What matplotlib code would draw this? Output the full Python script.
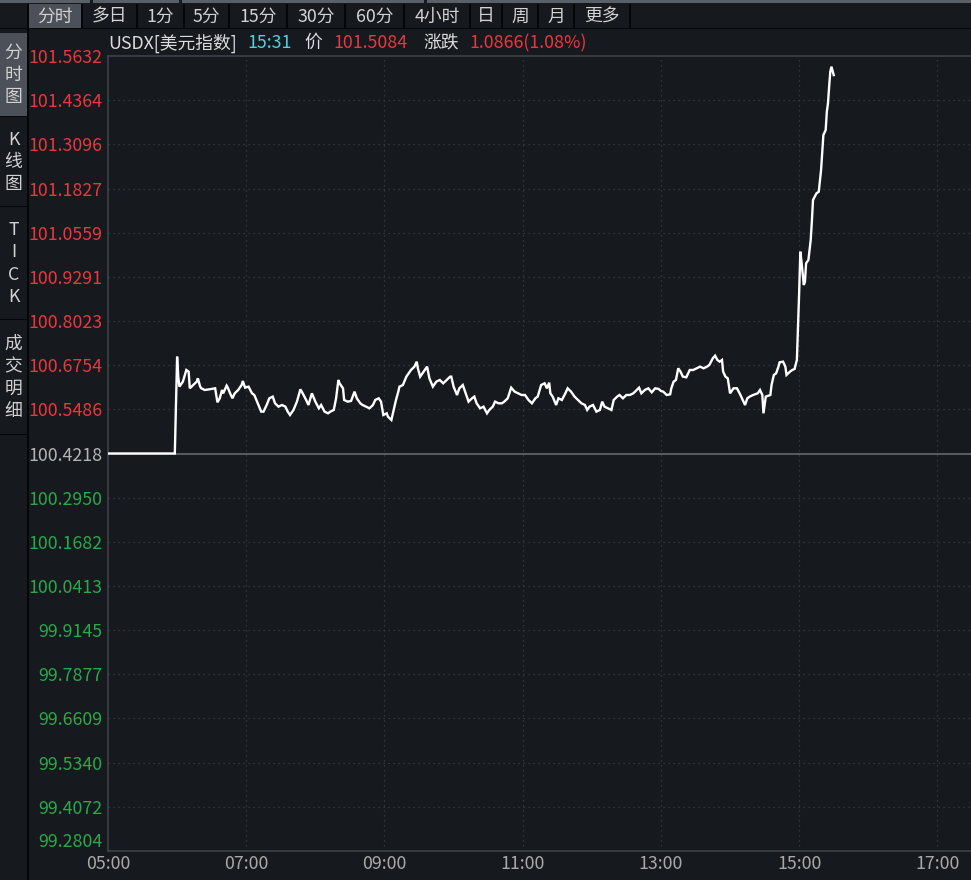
import matplotlib
matplotlib.use("Agg")
import matplotlib.pyplot as plt
from matplotlib.patches import Rectangle
import numpy as np

plt.rcParams['font.family'] = ['Noto Sans CJK SC', 'DejaVu Sans']

# ---------------- data ----------------
times = ["05:00", "05:58", "05:59", "06:00", "06:01", "06:02", "06:05", "06:08", "06:10", "06:11",
         "06:14", "06:17", "06:18", "06:20", "06:21", "06:24", "06:28", "06:33", "06:35", "06:37",
         "06:39", "06:40", "06:43", "06:44", "06:46", "06:48", "06:50", "06:53", "06:56", "06:57",
         "06:59", "07:02", "07:05", "07:07", "07:10", "07:13", "07:15", "07:18", "07:20", "07:23",
         "07:25", "07:28", "07:31", "07:34", "07:36", "07:38", "07:41", "07:44", "07:47", "07:49",
         "07:52", "07:54", "07:57", "08:00", "08:03", "08:05", "08:08", "08:11", "08:13", "08:16",
         "08:18", "08:20", "08:21", "08:24", "08:25", "08:28", "08:31", "08:34", "08:36", "08:39",
         "08:41", "08:44", "08:47", "08:50", "08:52", "08:55", "08:57", "08:59", "09:02", "09:03",
         "09:06", "09:09", "09:10", "09:12", "09:13", "09:16", "09:19", "09:21", "09:23", "09:26",
         "09:28", "09:29", "09:31", "09:34", "09:37", "09:39", "09:42", "09:45", "09:48", "09:51",
         "09:54", "09:57", "09:58", "10:00", "10:03", "10:05", "10:08", "10:10", "10:13", "10:16",
         "10:18", "10:20", "10:23", "10:26", "10:29", "10:31", "10:34", "10:36", "10:39", "10:42",
         "10:44", "10:47", "10:50", "10:53", "10:56", "10:59", "11:02", "11:05", "11:08", "11:11",
         "11:13", "11:16", "11:19", "11:21", "11:23", "11:24", "11:26", "11:29", "11:31", "11:34",
         "11:37", "11:39", "11:42", "11:45", "11:48", "11:51", "11:54", "11:56", "11:58", "12:01",
         "12:04", "12:07", "12:09", "12:11", "12:14", "12:17", "12:19", "12:22", "12:24", "12:27",
         "12:30", "12:33", "12:36", "12:39", "12:41", "12:43", "12:46", "12:49", "12:52", "12:55",
         "12:58", "13:00", "13:02", "13:05", "13:08", "13:09", "13:11", "13:13", "13:15", "13:17",
         "13:19", "13:22", "13:25", "13:28", "13:31", "13:34", "13:37", "13:40", "13:42", "13:45",
         "13:47", "13:49", "13:51", "13:53", "13:54", "13:56", "13:58", "14:00", "14:03", "14:06",
         "14:09", "14:11", "14:13", "14:15", "14:17", "14:20", "14:24", "14:26", "14:28", "14:29",
         "14:31", "14:35", "14:36", "14:38", "14:40", "14:42", "14:43", "14:46", "14:48", "14:49",
         "14:52", "14:54", "14:56", "14:58", "14:59", "15:00", "15:01", "15:02", "15:04", "15:05",
         "15:06", "15:08", "15:10", "15:11", "15:12", "15:15", "15:17", "15:19", "15:20", "15:21",
         "15:23", "15:24", "15:25", "15:26", "15:27", "15:28", "15:30"]
prices = [100.4218, 100.4218, 100.5611, 100.6999, 100.6425, 100.6138, 100.6281, 100.6616, 100.6568, 100.6090,
          100.6185, 100.6281, 100.6377, 100.6138, 100.6090, 100.6042, 100.6061, 100.6090, 100.5688, 100.5803,
          100.6042, 100.5946, 100.6166, 100.6109, 100.5946, 100.5803, 100.5946, 100.6042, 100.6185, 100.6300,
          100.6109, 100.6138, 100.5946, 100.5898, 100.5659, 100.5420, 100.5420, 100.5630, 100.5803, 100.5851,
          100.5659, 100.5563, 100.5611, 100.5563, 100.5420, 100.5324, 100.5468, 100.5707, 100.6061, 100.5946,
          100.5755, 100.5611, 100.5946, 100.5707, 100.5516, 100.5611, 100.5420, 100.5372, 100.5420, 100.5468,
          100.5803, 100.6329, 100.6233, 100.6090, 100.5755, 100.5707, 100.5726, 100.5994, 100.5803, 100.5659,
          100.5611, 100.5563, 100.5516, 100.5611, 100.5755, 100.5803, 100.5707, 100.5324, 100.5372, 100.5276,
          100.5181, 100.5611, 100.5755, 100.5994, 100.6138, 100.6185, 100.6425, 100.6521, 100.6616, 100.6712,
          100.6855, 100.6664, 100.6425, 100.6568, 100.6712, 100.6377, 100.6138, 100.6281, 100.6329, 100.6233,
          100.6329, 100.6425, 100.6425, 100.6138, 100.5898, 100.6090, 100.6185, 100.5994, 100.5707, 100.5803,
          100.5851, 100.5659, 100.5516, 100.5563, 100.5372, 100.5468, 100.5563, 100.5707, 100.5659, 100.5659,
          100.5707, 100.5803, 100.6109, 100.5994, 100.5946, 100.5898, 100.5898, 100.5755, 100.5659, 100.5803,
          100.5851, 100.6185, 100.6233, 100.6090, 100.6252, 100.5946, 100.5851, 100.5611, 100.5803, 100.5755,
          100.5946, 100.6090, 100.5994, 100.5851, 100.5755, 100.5659, 100.5611, 100.5468, 100.5563, 100.5611,
          100.5420, 100.5468, 100.5707, 100.5563, 100.5516, 100.5468, 100.5755, 100.5851, 100.5898, 100.5803,
          100.5898, 100.5898, 100.5946, 100.6042, 100.6109, 100.5946, 100.6042, 100.6090, 100.5975, 100.6090,
          100.6071, 100.6013, 100.5994, 100.5898, 100.5917, 100.6090, 100.6281, 100.6329, 100.6664, 100.6568,
          100.6425, 100.6406, 100.6616, 100.6616, 100.6664, 100.6712, 100.6664, 100.6712, 100.6760, 100.6951,
          100.7028, 100.6903, 100.6855, 100.6903, 100.6568, 100.6425, 100.6377, 100.5946, 100.6090, 100.6090,
          100.5898, 100.5755, 100.5611, 100.5803, 100.5851, 100.5898, 100.5946, 100.6042, 100.5898, 100.5372,
          100.5851, 100.5898, 100.6185, 100.6473, 100.6521, 100.6712, 100.6836, 100.6855, 100.6712, 100.6473,
          100.6568, 100.6616, 100.6645, 100.6903, 100.7860, 100.8865, 101.0013, 100.9726, 100.9056, 100.9152,
          100.9678, 100.9774, 101.0348, 101.0875, 101.1497, 101.1688, 101.1736, 101.2358, 101.2885, 101.3363,
          101.3507, 101.4033, 101.4272, 101.4751, 101.5182, 101.5325, 101.5084]

y_ticks = [99.2804, 99.4072, 99.5340, 99.6609, 99.7877, 99.9145, 100.0413, 100.1682, 100.2950,
           100.4218, 100.5486, 100.6754, 100.8023, 100.9291, 101.0559, 101.1827, 101.3096, 101.4364, 101.5632]
y_tick_labels = ["99.2804", "99.4072", "99.5340", "99.6609", "99.7877", "99.9145", "100.0413", "100.1682",
                 "100.2950", "100.4218", "100.5486", "100.6754", "100.8023", "100.9291", "101.0559",
                 "101.1827", "101.3096", "101.4364", "101.5632"]
x_tick_labels = ["05:00", "07:00", "09:00", "11:00", "13:00", "15:00", "17:00"]
prev_close = 100.4218

toolbar_tabs = ["分时", "多日", "1分", "5分", "15分", "30分", "60分", "4小时", "日", "周", "月", "更多"]
side_tabs = ["分\n时\n图", "K\n线\n图", "T\nI\nC\nK", "成\n交\n明\n细"]

header_parts = [("USDX[美元指数]", "#dcdcdc"), ("15:31", "#4fd2e0"), ("价", "#dcdcdc"),
                ("101.5084", "#e8383d"), ("涨跌", "#dcdcdc"), ("1.0866(1.08%)", "#e8383d")]

# ---------------- helpers ----------------
def to_min(s):
    h, m = s.split(":")
    return (int(h) - 5) * 60 + int(m)

t_min = np.array([to_min(s) for s in times])
x_ticks = [to_min(s) for s in x_tick_labels]

BG = "#16191e"
GRID = "#3b3f46"
RED = "#e8383d"
GREEN = "#2aa84a"
GREY_TXT = "#a8a8a8"
FS = 12.8

W, H = 971, 880
fig = plt.figure(figsize=(W / 100, H / 100), dpi=100, facecolor=BG)

# chrome (figure-pixel coordinates)
bg = fig.add_axes([0, 0, 1, 1])
bg.set_xlim(0, W)
bg.set_ylim(H, 0)
bg.axis("off")
bg.set_facecolor(BG)

bg.add_patch(Rectangle((0, 0), W, 3.5, color="#5b6068", lw=0))
for gx in (90, 179, 424):
    bg.add_patch(Rectangle((gx, 0), 3, 3.5, color=BG, lw=0))
bg.add_patch(Rectangle((0, 28), W, 1.5, color="#050607", lw=0))

tab_edges = [28, 82, 137, 184, 229, 287, 345, 404, 470, 502, 538, 574, 630]
for i, lab in enumerate(toolbar_tabs):
    x0, x1 = tab_edges[i], tab_edges[i + 1]
    if i == 0:
        bg.add_patch(Rectangle((x0, 4), x1 - x0, 24, color="#4b5059", lw=0))
    bg.add_patch(Rectangle((x1 - 1, 4), 1.5, 24, color="#050607", lw=0))
    bg.text((x0 + x1) / 2, 16.5, lab, color="#d2d2d2", fontsize=FS,
            ha="center", va="center")
bg.add_patch(Rectangle((27, 4), 1.5, 24, color="#050607", lw=0))

bg.add_patch(Rectangle((27, 29), 1.5, H - 29, color="#050607", lw=0))
side_edges = [33, 117, 207, 320, 435]
for i, lab in enumerate(side_tabs):
    y0, y1 = side_edges[i], side_edges[i + 1]
    if i == 0:
        bg.add_patch(Rectangle((0, y0), 27, y1 - y0, color="#4b5059", lw=0))
    bg.add_patch(Rectangle((0, y1 - 1), 27, 1.5, color="#050607", lw=0))
    bg.text(13.5, (y0 + y1) / 2, lab, color="#d2d2d2", fontsize=FS,
            ha="center", va="center", linespacing=1.3)

hx = [108, 247, 304, 333, 423, 469]
for (txt, col), x in zip(header_parts, hx):
    bg.text(x, 43, txt, color=col, fontsize=FS, ha="left", va="center")

# ---------------- main chart ----------------
L, R, T, B = 108, 971, 56, 851
ax = fig.add_axes([L / W, 1 - B / H, (R - L) / W, (B - T) / H])
ax.set_facecolor(BG)
ax.set_xlim(0, (R - 108.2) / 1.1517)
ax.set_ylim(y_ticks[0], y_ticks[-1])

for y in y_ticks[1:-1]:
    if abs(y - prev_close) < 1e-6:
        ax.axhline(y, color="#6b6f76", lw=1.1, zorder=1)
    else:
        ax.axhline(y, color=GRID, lw=0.9, ls=(0, (1, 3)), zorder=1)
for x in x_ticks[1:]:
    ax.axvline(x, color=GRID, lw=0.9, ls=(0, (1, 3)), zorder=1)

ax.plot(t_min, prices, color="white", lw=1.7, zorder=3, solid_joinstyle="miter")

ax.spines["right"].set_visible(False)
for side in ("left", "bottom", "top"):
    ax.spines[side].set_color("#3e4249")
    ax.spines[side].set_linewidth(1.2)

ax.set_yticks(y_ticks)
ax.set_yticklabels(y_tick_labels)
ax.set_xticks(x_ticks)
ax.set_xticklabels(x_tick_labels)
ax.tick_params(axis="both", length=0, labelsize=FS)
ax.tick_params(axis="y", pad=4)
ax.tick_params(axis="x", pad=3, colors=GREY_TXT)

for val, lab in zip(y_ticks, ax.get_yticklabels()):
    if abs(val - prev_close) < 1e-6:
        lab.set_color("#b4b4b4")
    elif val > prev_close:
        lab.set_color(RED)
    else:
        lab.set_color(GREEN)
ax.get_yticklabels()[0].set_va("bottom")

fig.savefig("out.png", dpi=100, facecolor=BG)
